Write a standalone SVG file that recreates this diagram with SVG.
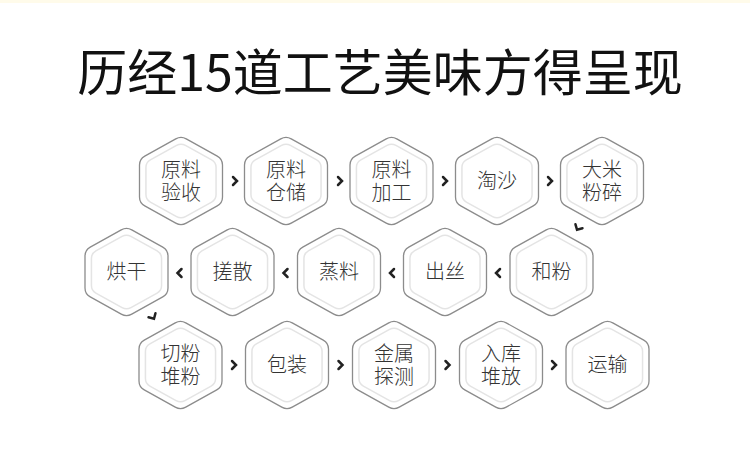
<svg xmlns="http://www.w3.org/2000/svg" xmlns:xlink="http://www.w3.org/1999/xlink" width="750" height="456" viewBox="0 0 750 456">
<style>
.title{font-family:"Noto Sans CJK SC","Noto Sans",sans-serif;font-size:50px;font-weight:400;fill:#111;text-anchor:middle}
.lbl{font-family:"Noto Sans CJK SC","Noto Sans",sans-serif;font-size:20px;font-weight:300;fill:#333;text-anchor:middle}
.outer{fill:#fff;stroke:#8c8c8c;stroke-width:1.3}
.inner{fill:none;stroke:#e4e4e4;stroke-width:1.5}
.arr{fill:none;stroke:#222;stroke-width:2.5;stroke-linecap:round;stroke-linejoin:miter}
</style>
<defs>
<path id="hex" d="M -5.25,-42.09 Q 0,-45 5.25,-42.09 L 36.25,-24.91 Q 41.5,-22 41.5,-16 L 41.5,16 Q 41.5,22 36.25,24.91 L 5.25,42.09 Q 0,45 -5.25,42.09 L -36.25,24.91 Q -41.5,22 -41.5,16 L -41.5,-16 Q -41.5,-22 -36.25,-24.91 Z"/>
<g id="node">
<use xlink:href="#hex" class="outer"/>
<path class="inner" d="M -4.44,-35.57 Q 0,-38.03 4.44,-35.57 L 30.63,-21.05 Q 35.07,-18.59 35.07,-13.52 L 35.07,13.52 Q 35.07,18.59 30.63,21.05 L 4.44,35.57 Q 0,38.03 -4.44,35.57 L -30.63,21.05 Q -35.07,18.59 -35.07,13.52 L -35.07,-13.52 Q -35.07,-18.59 -30.63,-21.05 Z"/>
</g>
<path id="chev" d="M -2,-4 L 2,0 L -2,4"/>
</defs>
<rect x="0" y="0" width="750" height="456" fill="#fff"/>
<rect x="0" y="0" width="750" height="3" fill="#fffbea"/>
<text class="title" x="380" y="91">历经15道工艺美味方得呈现</text>

<g id="connectors">
<use xlink:href="#chev" class="arr" transform="translate(235,181)"/>
<use xlink:href="#chev" class="arr" transform="translate(340,181)"/>
<use xlink:href="#chev" class="arr" transform="translate(445,181)"/>
<use xlink:href="#chev" class="arr" transform="translate(550,181)"/>
<use xlink:href="#chev" class="arr" transform="translate(578,228) rotate(119)"/>
<use xlink:href="#chev" class="arr" transform="translate(498,273) rotate(180)"/>
<use xlink:href="#chev" class="arr" transform="translate(392,273) rotate(180)"/>
<use xlink:href="#chev" class="arr" transform="translate(285.5,273) rotate(180)"/>
<use xlink:href="#chev" class="arr" transform="translate(179.5,273) rotate(180)"/>
<use xlink:href="#chev" class="arr" transform="translate(153,317) rotate(60)"/>
<use xlink:href="#chev" class="arr" transform="translate(234,365)"/>
<use xlink:href="#chev" class="arr" transform="translate(340.5,365)"/>
<use xlink:href="#chev" class="arr" transform="translate(447.5,365)"/>
<use xlink:href="#chev" class="arr" transform="translate(554,365)"/>
</g>

<g id="n1" transform="translate(181,181)"><use xlink:href="#node"/><text class="lbl" y="-4">原料</text><text class="lbl" y="19">验收</text></g>
<g id="n2" transform="translate(286,181)"><use xlink:href="#node"/><text class="lbl" y="-4">原料</text><text class="lbl" y="19">仓储</text></g>
<g id="n3" transform="translate(391.5,181)"><use xlink:href="#node"/><text class="lbl" y="-4">原料</text><text class="lbl" y="19">加工</text></g>
<g id="n4" transform="translate(497,181)"><use xlink:href="#node"/><text class="lbl" y="7">淘沙</text></g>
<g id="n5" transform="translate(602,181)"><use xlink:href="#node"/><text class="lbl" y="-4">大米</text><text class="lbl" y="19">粉碎</text></g>

<g id="n6" transform="translate(551.5,272)"><use xlink:href="#node"/><text class="lbl" y="7">和粉</text></g>
<g id="n7" transform="translate(445,272)"><use xlink:href="#node"/><text class="lbl" y="7">出丝</text></g>
<g id="n8" transform="translate(339,272)"><use xlink:href="#node"/><text class="lbl" y="7">蒸料</text></g>
<g id="n9" transform="translate(232.5,272)"><use xlink:href="#node"/><text class="lbl" y="7">搓散</text></g>
<g id="n10" transform="translate(126.5,272)"><use xlink:href="#node"/><text class="lbl" y="7">烘干</text></g>

<g id="n11" transform="translate(180.5,365)"><use xlink:href="#node"/><text class="lbl" y="-4">切粉</text><text class="lbl" y="19">堆粉</text></g>
<g id="n12" transform="translate(287,365)"><use xlink:href="#node"/><text class="lbl" y="7">包装</text></g>
<g id="n13" transform="translate(394,365)"><use xlink:href="#node"/><text class="lbl" y="-4">金属</text><text class="lbl" y="19">探测</text></g>
<g id="n14" transform="translate(501,365)"><use xlink:href="#node"/><text class="lbl" y="-4">入库</text><text class="lbl" y="19">堆放</text></g>
<g id="n15" transform="translate(607.5,365)"><use xlink:href="#node"/><text class="lbl" y="7">运输</text></g>
</svg>
